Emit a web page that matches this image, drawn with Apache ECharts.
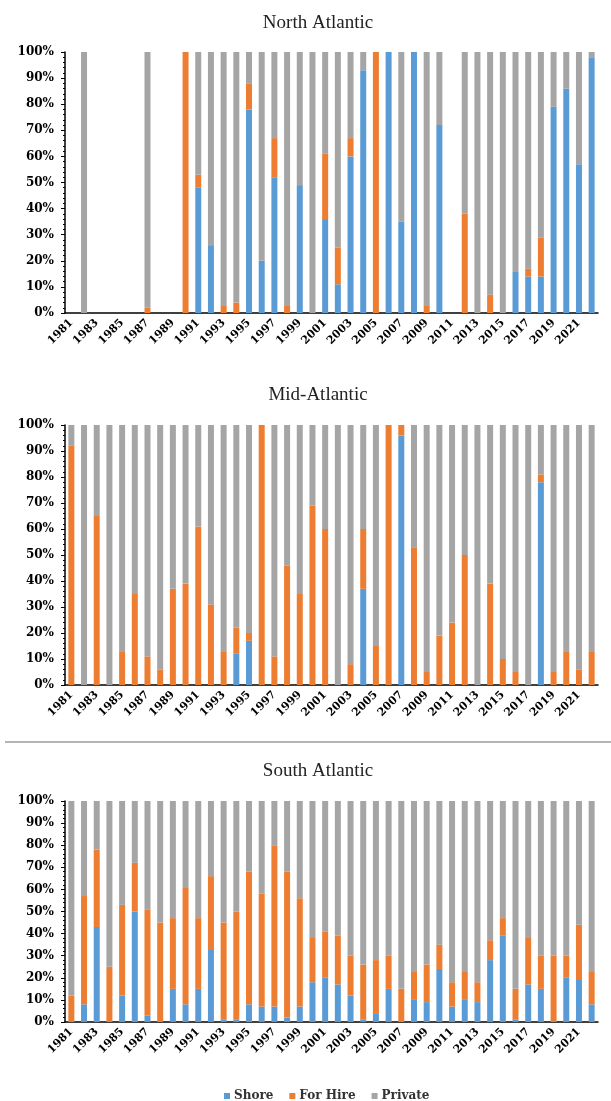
<!DOCTYPE html>
<html>
<head>
<meta charset="utf-8">
<script src="https://cdn.jsdelivr.net/npm/echarts@6/dist/echarts.min.js"></script>
<style>
html,body{margin:0;padding:0;background:#fff;}
#chart{width:611px;height:1101px;}
</style>
</head>
<body>
<div id="chart"></div>
<script>
const years = ["1981","1982","1983","1984","1985","1986","1987","1988","1989","1990","1991","1992","1993","1994","1995","1996","1997","1998","1999","2000","2001","2002","2003","2004","2005","2006","2007","2008","2009","2010","2011","2012","2013","2014","2015","2016","2017","2018","2019","2020","2021","2022"];
const seriesNames = ["Shore","For Hire","Private"];
const panelTitles = ["North Atlantic","Mid-Atlantic","South Atlantic"];

// North Atlantic (percent)
const naShore   = [null,0,null,null,null,null,0,null,null,0,48,26,0,0,78,20,52,0,49,0,36,11,60,93,0,100,35,100,0,72,null,0,0,0,0,16,14,14,79,86,57,98];
const naForHire = [null,0,null,null,null,null,2,null,null,100,5,0,3,4,10,0,15,3,0,0,25,14,7,0,100,0,0,0,3,0,null,38,0,7,0,0,3,15,0,0,0,0];
const naPrivate = [null,100,null,null,null,null,98,null,null,0,47,74,97,96,12,80,33,97,51,100,39,75,33,7,0,0,65,0,97,28,null,62,100,93,100,84,83,71,21,14,43,2];

// Mid-Atlantic (percent)
const maShore   = [0,0,0,0,0,0,0,0,0,0,0,0,0,12,17,0,0,0,0,0,0,0,0,37,0,0,96,0,0,0,0,0,0,0,0,0,0,78,0,0,0,0];
const maForHire = [92,0,65,0,13,35,11,6,37,39,61,31,13,10,3,100,11,46,35,69,60,0,8,23,15,100,4,53,5,19,24,50,0,39,10,5,0,3,5,13,6,13];
const maPrivate = [8,100,35,100,87,65,89,94,63,61,39,69,87,78,80,0,89,54,65,31,40,100,92,40,85,0,0,47,95,81,76,50,100,61,90,95,100,19,95,87,94,87];

// South Atlantic (percent)
const saShore   = [0,8,43,0,12,50,3,0,15,8,15,33,1,1,8,7,7,2,7,18,20,17,12,1,4,15,0,10,9,24,7,10,9,28,39,1,17,15,0,20,19,8];
const saForHire = [12,49,35,25,41,22,48,45,32,53,32,33,44,49,60,51,73,66,49,20,21,22,18,25,24,15,15,13,17,11,11,13,9,9,8,14,21,15,30,10,25,15];
const saPrivate = [88,43,22,75,47,28,49,55,53,39,53,34,55,50,32,42,20,32,44,62,59,61,70,74,72,70,85,77,74,65,82,77,82,63,53,85,62,70,70,70,56,77];

const panelData = [
  [naShore, naForHire, naPrivate],
  [maShore, maForHire, maPrivate],
  [saShore, saForHire, saPrivate]
];
const colors = ["#5B9BD5","#ED7D31","#A5A5A5"];

const grids = [
  {left:65, width:533, top:52, height:261},
  {left:65, width:533, top:425, height:260},
  {left:65, width:533, top:801, height:221}
];
const titleTops = [9, 381, 757];
const boldFont = "DejaVu Serif";

const option = {
  backgroundColor:"#fff",
  animation:false,
  color: colors,
  title: panelTitles.map((t,i)=>({
    text:t, left:313, top:titleTops[i], textAlign:"center",
    textStyle:{fontFamily:"Liberation Serif", fontSize:19, fontWeight:"normal", color:"#222"}
  })),
  legend:{
    data:seriesNames, left:219, top:1085, icon:"rect", itemWidth:6, itemHeight:6, itemGap:16,
    textStyle:{fontFamily:boldFont, fontWeight:"bold", fontSize:12, color:"#333", padding:[0,0,0,-1]}
  },
  grid: grids,
  xAxis: grids.map((g,i)=>({
    type:"category", gridIndex:i, data:years,
    axisLine:{lineStyle:{color:"#000", width:1.5}},
    axisTick:{interval:0, length:4, lineStyle:{color:"#000"}},
    axisLabel:{interval:1, rotate:45, margin:8, fontFamily:boldFont, fontWeight:"bold", fontSize:11, color:"#000"}
  })),
  yAxis: grids.map((g,i)=>({
    type:"value", gridIndex:i, min:0, max:100, interval:10,
    axisLine:{show:true, lineStyle:{color:"#000", width:1.5}},
    axisTick:{show:true, length:4, lineStyle:{color:"#000"}},
    minorTick:{show:true, splitNumber:5, length:2, lineStyle:{color:"#000"}},
    splitLine:{show:false},
    axisLabel:{formatter:"{value}%", margin:11, fontFamily:boldFont, fontWeight:"bold", fontSize:12, color:"#000"}
  })),
  graphic:[{
    type:"line", shape:{x1:5, y1:742, x2:611, y2:742},
    style:{stroke:"#b4b4b4", lineWidth:2}
  }],
  series:[]
};

panelData.forEach((arrs,pi)=>{
  arrs.forEach((vals,si)=>{
    option.series.push({
      name:seriesNames[si], type:"bar", stack:"p"+pi,
      xAxisIndex:pi, yAxisIndex:pi, data:vals, barWidth:6,
      itemStyle:{color:colors[si]}
    });
  });
});

const chart = echarts.init(document.getElementById("chart"), null, {renderer:"canvas"});
chart.setOption(option);
</script>
</body>
</html>
